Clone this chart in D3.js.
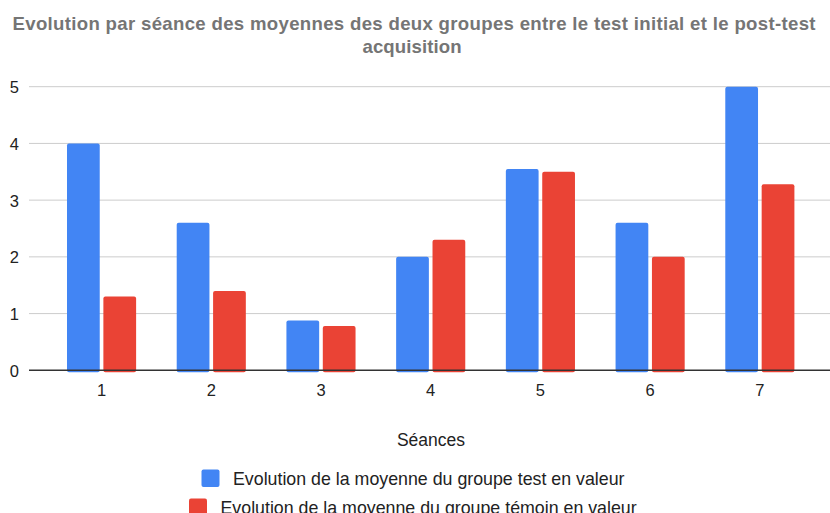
<!DOCTYPE html>
<html>
<head>
<meta charset="utf-8">
<script src="https://cdn.jsdelivr.net/npm/d3@7"></script>
<style>
  body { margin: 0; background: #fff; }
  svg { display: block; font-family: "Liberation Sans", Arial, sans-serif; }
</style>
</head>
<body>
<svg id="chart" width="830" height="513"></svg>
<script>
const seances = ["1", "2", "3", "4", "5", "6", "7"];
const groupeTest = [4.0, 2.6, 0.88, 2.0, 3.55, 2.6, 5.0];
const groupeTemoin = [1.3, 1.4, 0.78, 2.3, 3.5, 2.0, 3.28];
const yTicks = [0, 1, 2, 3, 4, 5];
const seriesNames = [
  "Evolution de la moyenne du groupe test en valeur",
  "Evolution de la moyenne du groupe témoin en valeur"
];
const colors = ["#4285f4", "#ea4335"];

const svg = d3.select("#chart");
const plotLeft = 29, plotRight = 830;

const x = d3.scaleBand()
  .domain(seances)
  .range([46.7, 814.7])
  .paddingInner(0.37)
  .paddingOuter(0.185);

const xInner = d3.scaleBand()
  .domain([0, 1])
  .range([0, x.bandwidth()])
  .paddingInner(0.1);

const y = d3.scaleLinear()
  .domain([0, 5])
  .range([370.3, 86.7]);

// title
const title = svg.append("text")
  .attr("text-anchor", "middle")
  .attr("font-size", 18.6)
  .attr("font-weight", "bold")
  .attr("fill", "#757575");
title.append("tspan").attr("x", 414).attr("y", 30)
  .attr("textLength", 803)
  .attr("lengthAdjust", "spacing")
  .text("Evolution par séance des moyennes des deux groupes entre le test initial et le post-test");
title.append("tspan").attr("x", 412).attr("y", 53)
  .attr("textLength", 99)
  .attr("lengthAdjust", "spacing")
  .text("acquisition");

// gridlines
svg.append("g").selectAll("line")
  .data(yTicks.filter(d => d !== 0))
  .join("line")
  .attr("x1", plotLeft).attr("x2", plotRight)
  .attr("y1", d => y(d)).attr("y2", d => y(d))
  .attr("stroke", "#cccccc")
  .attr("stroke-width", 1);

// y labels
svg.append("g").selectAll("text")
  .data(yTicks)
  .join("text")
  .attr("x", 19)
  .attr("y", d => y(d) + 6.5)
  .attr("text-anchor", "end")
  .attr("font-size", 16.5)
  .attr("fill", "#222")
  .text(d => d);

// bars
const rows = seances.map((s, i) => ({ s, vals: [groupeTest[i], groupeTemoin[i]] }));
const groups = svg.append("g").selectAll("g")
  .data(rows)
  .join("g")
  .attr("transform", d => `translate(${x(d.s)},0)`);

groups.selectAll("rect")
  .data(d => d.vals.map((v, k) => ({ v, k })))
  .join("rect")
  .attr("x", d => xInner(d.k))
  .attr("width", xInner.bandwidth())
  .attr("y", d => y(d.v))
  .attr("height", d => y(0) - y(d.v) + 2)
  .attr("rx", 2)
  .attr("fill", d => colors[d.k]);

// baseline
svg.append("line")
  .attr("x1", plotLeft).attr("x2", plotRight)
  .attr("y1", y(0)).attr("y2", y(0))
  .attr("stroke", "#333")
  .attr("stroke-width", 1.5);

// x labels
svg.append("g").selectAll("text")
  .data(seances)
  .join("text")
  .attr("x", d => x(d) + x.bandwidth() / 2)
  .attr("y", 396)
  .attr("text-anchor", "middle")
  .attr("font-size", 16.5)
  .attr("fill", "#222")
  .text(d => d);

// axis title
svg.append("text")
  .attr("x", 431)
  .attr("y", 446)
  .attr("text-anchor", "middle")
  .attr("font-size", 17.5)
  .attr("fill", "#222")
  .text("Séances");

// legend
const legendPos = [{ sx: 201.5, ty: 485 }, { sx: 189, ty: 514 }];
const legend = svg.append("g").selectAll("g")
  .data(seriesNames)
  .join("g");
legend.append("rect")
  .attr("x", (d, i) => legendPos[i].sx)
  .attr("y", (d, i) => legendPos[i].ty - 15.5)
  .attr("width", 18).attr("height", 17.5)
  .attr("rx", 2)
  .attr("fill", (d, i) => colors[i]);
legend.append("text")
  .attr("x", (d, i) => legendPos[i].sx + 31.5)
  .attr("y", (d, i) => legendPos[i].ty)
  .attr("font-size", 17.8)
  .attr("fill", "#222")
  .text(d => d);
</script>
</body>
</html>
